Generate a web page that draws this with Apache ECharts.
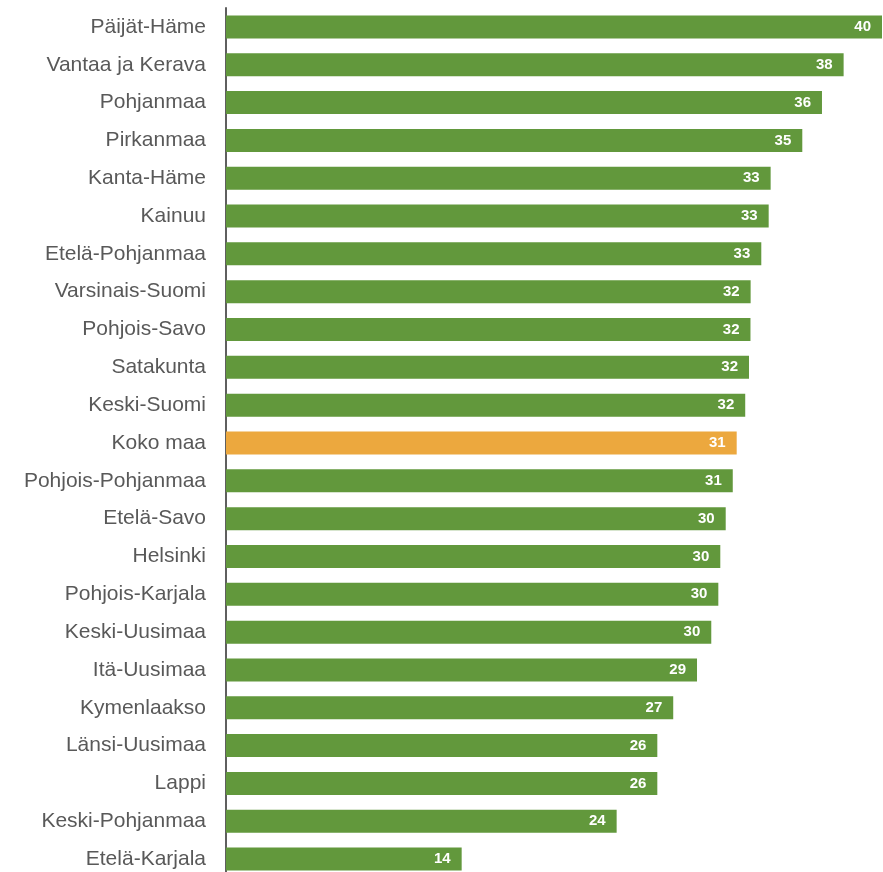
<!DOCTYPE html>
<html>
<head>
<meta charset="utf-8">
<script src="https://cdn.jsdelivr.net/npm/echarts@6/dist/echarts.min.js"></script>
<style>
html,body{margin:0;padding:0;background:#fff;overflow:hidden;}
#chart{width:883px;height:880px;}
</style>
</head>
<body>
<div id="chart"></div>
<script>
const categories = [
  "Päijät-Häme","Vantaa ja Kerava","Pohjanmaa","Pirkanmaa","Kanta-Häme","Kainuu",
  "Etelä-Pohjanmaa","Varsinais-Suomi","Pohjois-Savo","Satakunta","Keski-Suomi",
  "Koko maa","Pohjois-Pohjanmaa","Etelä-Savo","Helsinki","Pohjois-Karjala",
  "Keski-Uusimaa","Itä-Uusimaa","Kymenlaakso","Länsi-Uusimaa","Lappi",
  "Keski-Pohjanmaa","Etelä-Karjala"
];
const values = [
  40.0, 37.66, 36.34, 35.14, 33.21, 33.09,
  32.64, 31.99, 31.98, 31.89, 31.66,
  31.14, 30.90, 30.47, 30.14, 30.02,
  29.59, 28.72, 27.27, 26.30, 26.30,
  23.82, 14.37
];
const highlightCategory = "Koko maa";

const GREEN = "#62983c";
const ORANGE = "#eca83e";

const chart = echarts.init(document.getElementById('chart'), null, {renderer: 'canvas'});
chart.setOption({
  animation: false,
  backgroundColor: '#ffffff',
  grid: {left: 226, right: 1, top: 8, height: 870, containLabel: false},
  xAxis: {
    type: 'value', min: 0, max: 40,
    show: false
  },
  yAxis: {
    type: 'category',
    data: categories,
    inverse: true,
    axisLine: {show: true, lineStyle: {color: '#5f5f5f', width: 2}},
    axisTick: {show: false},
    splitLine: {show: false},
    axisLabel: {
      color: '#595959',
      fontFamily: 'Liberation Sans, Arial, sans-serif',
      fontSize: 21,
      margin: 20,
      padding: [5, 0, 0, 0]
    }
  },
  series: [{
    type: 'bar',
    barWidth: 23,
    data: values.map((v, i) => ({
      value: v,
      itemStyle: {color: categories[i] === highlightCategory ? ORANGE : GREEN}
    })),
    label: {
      show: true,
      position: 'insideRight',
      distance: 11,
      color: '#ffffff',
      fontWeight: 'bold',
      fontSize: 15,
      fontFamily: 'Liberation Sans, Arial, sans-serif',
      formatter: p => Math.round(p.value)
    }
  }]
});
</script>
</body>
</html>
